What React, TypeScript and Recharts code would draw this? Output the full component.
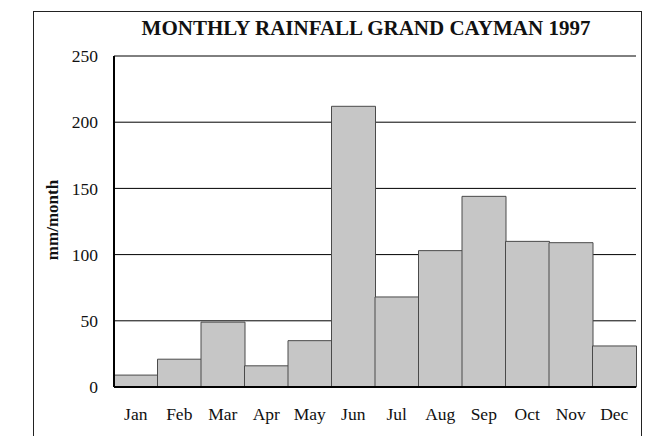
import React from 'react';
import { BarChart, Bar, XAxis, YAxis, CartesianGrid } from 'recharts';

const months = ['Jan', 'Feb', 'Mar', 'Apr', 'May', 'Jun', 'Jul', 'Aug', 'Sep', 'Oct', 'Nov', 'Dec'];
const rainfall = [9, 21, 49, 16, 35, 212, 68, 103, 144, 110, 109, 31];
const yTicks = [0, 50, 100, 150, 200, 250];
const title = 'MONTHLY RAINFALL GRAND CAYMAN 1997';
const yLabel = 'mm/month';

const data = months.map((m, i) => ({ month: m, rain: rainfall[i] }));

const FONT = '"Liberation Serif", "DejaVu Serif", serif';

export default function App() {
  return (
    <div style={{ position: 'absolute', left: 0, top: 0, width: 648, height: 436, background: '#fff', overflow: 'hidden', fontFamily: FONT }}>
      <div style={{ position: 'absolute', left: 33, top: 11, width: 607, height: 440, borderLeft: '1px solid #222', borderTop: '1px solid #222', borderRight: '1px solid #222' }} />
      <div style={{ position: 'absolute', left: 116, top: 18, width: 500, height: 21, lineHeight: '21px', fontSize: 21, fontWeight: 'bold', textAlign: 'center', color: '#111', whiteSpace: 'nowrap' }}>{title}</div>
      <div style={{ position: 'absolute', left: 3, top: 210, width: 100, height: 20, lineHeight: '20px', fontSize: 17, fontWeight: 'bold', textAlign: 'center', color: '#111', transform: 'rotate(-90deg)', transformOrigin: '50% 50%' }}>{yLabel}</div>
      <div style={{ position: 'absolute', left: 0, top: 0 }}>
        <BarChart width={648} height={436} data={data} margin={{ top: 56, right: 12, left: 0, bottom: 0 }} barCategoryGap={0} barGap={0}>
          <CartesianGrid vertical={false} stroke="#000" strokeWidth={1} />
          <XAxis dataKey="month" height={49} tickSize={0} tickMargin={21} axisLine={{ stroke: '#000', strokeWidth: 2 }} tick={{ fill: '#111', fontSize: 17.5, fontFamily: FONT }} interval={0} />
          <XAxis dataKey="month" xAxisId="top" orientation="top" height={0} tick={false} tickLine={false} axisLine={{ stroke: '#000', strokeWidth: 1.5 }} />
          <YAxis domain={[0, 250]} ticks={yTicks} width={114} tickSize={0} tickMargin={16} axisLine={{ stroke: '#000', strokeWidth: 2 }} tick={{ fill: '#111', fontSize: 17.5, fontFamily: FONT }} />
          <YAxis yAxisId="right" orientation="right" domain={[0, 250]} width={0} tick={false} tickLine={false} axisLine={{ stroke: '#000', strokeWidth: 1.5 }} />
          <Bar dataKey="rain" fill="#c6c6c6" stroke="#4a4a4a" strokeWidth={1} isAnimationActive={false} />
        </BarChart>
      </div>
    </div>
  );
}
